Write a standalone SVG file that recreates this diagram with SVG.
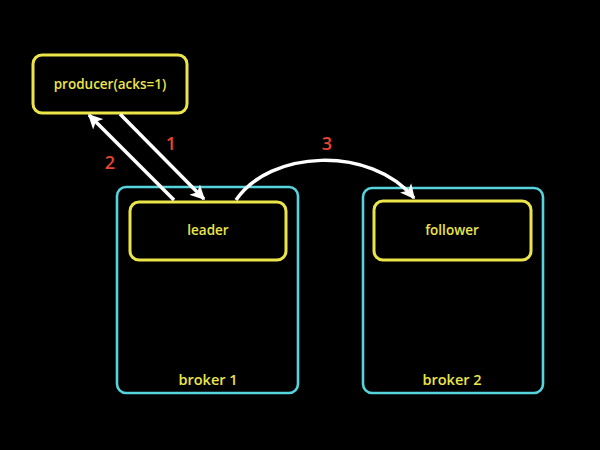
<svg xmlns="http://www.w3.org/2000/svg" width="600" height="450" viewBox="0 0 600 450">
<defs>
<style>
.broker{fill:none;stroke:#56d4de;stroke-width:2.6}
.node{fill:#000;stroke:#ece54a;stroke-width:3}
.lbl{font-family:"Open Sans","Noto Sans","Liberation Sans",sans-serif;font-size:13.5px;font-weight:600;fill:#ece54a;text-anchor:middle}
.big{font-size:14.5px}
.num{font-family:"Open Sans","Noto Sans","Liberation Sans",sans-serif;font-size:18px;font-weight:600;fill:#e8442f;text-anchor:middle}
.edge{fill:none;stroke:#fff;stroke-width:3.5}
</style>
<marker id="ah" viewBox="0 0 10 10" refX="9" refY="5" markerWidth="4.2" markerHeight="4.2" orient="auto" markerUnits="strokeWidth">
<path d="M0,0 L10,5 L0,10 L2.5,5 Z" fill="#fff"/>
</marker>
</defs>
<rect width="600" height="450" fill="#000"/>
<g id="broker1">
<rect class="broker" x="117" y="187" width="181" height="206" rx="9"/>
<text class="lbl big" x="208" y="385">broker 1</text>
</g>
<g id="broker2">
<rect class="broker" x="363" y="188" width="180" height="205" rx="9"/>
<text class="lbl big" x="452" y="385">broker 2</text>
</g>
<g id="producer">
<rect class="node" x="33" y="55" width="154" height="58" rx="9"/>
<text class="lbl" x="110" y="89">producer(acks=1)</text>
</g>
<g id="leader">
<rect class="node" x="130" y="202" width="156" height="58" rx="9"/>
<text class="lbl" x="208" y="235">leader</text>
</g>
<g id="follower">
<rect class="node" x="374" y="201" width="157" height="59" rx="9"/>
<text class="lbl" x="452" y="235">follower</text>
</g>
<g id="connectors">
<line class="edge" x1="120" y1="114" x2="204" y2="199" marker-end="url(#ah)"/>
<line class="edge" x1="174" y1="200" x2="89" y2="115" marker-end="url(#ah)"/>
<path class="edge" d="M236,200 C270,150 370,145 414,198" marker-end="url(#ah)"/>
<text class="num" x="171" y="150">1</text>
<text class="num" x="110" y="169">2</text>
<text class="num" x="327" y="150">3</text>
</g>
</svg>
